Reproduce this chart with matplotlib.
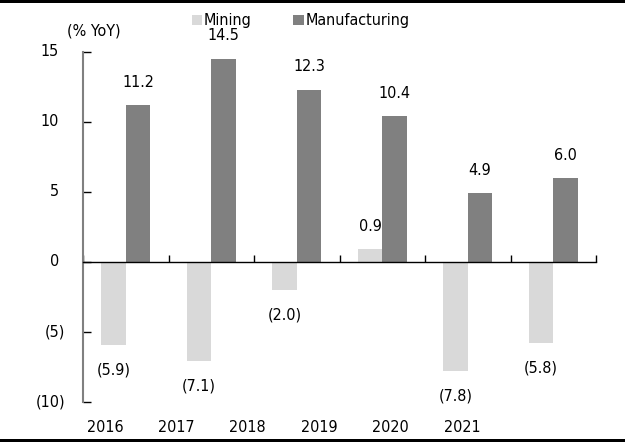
import matplotlib
matplotlib.use("Agg")
import matplotlib.pyplot as plt
from matplotlib.patches import Rectangle
from matplotlib.transforms import offset_copy, blended_transform_factory
import numpy as np

years = ["2016", "2017", "2018", "2019", "2020", "2021"]
mining = [-5.9, -7.1, -2.0, 0.9, -7.8, -5.8]
manufacturing = [11.2, 14.5, 12.3, 10.4, 4.9, 6.0]
yticks = [-10, -5, 0, 5, 10, 15]

plt.rcParams["font.family"] = ["DejaVu Sans"]
plt.rcParams["font.stretch"] = "condensed"
FS = 11.5

c_min = "#d9d9d9"
c_man = "#808080"

fig = plt.figure(figsize=(6.25, 4.42), dpi=100)
W, H = 625, 442
ax = fig.add_axes([83 / W, 1 - 402 / H, (596 - 83) / W, (402 - 52) / H])

x = np.arange(len(years))
bw = 0.284
b1 = ax.bar(x - bw / 2, mining, bw, color=c_min, label="Mining", zorder=2)
b2 = ax.bar(x + bw / 2, manufacturing, bw, color=c_man, label="Manufacturing", zorder=2)

ax.set_xlim(-0.5, len(years) - 0.5)
ax.set_ylim(-10, 15)

for s in ["top", "right"]:
    ax.spines[s].set_visible(False)
ax.spines["left"].set_color("#808080")
ax.spines["left"].set_linewidth(1.5)
ax.spines["bottom"].set_position(("data", 0))
ax.spines["bottom"].set_color("black")
ax.spines["bottom"].set_linewidth(1.0)
ax.spines["bottom"].set_zorder(3)

ax.set_xticks(np.arange(-0.5, len(years), 1.0))
ax.set_xticklabels([])
ax.tick_params(axis="x", direction="in", length=5, width=1, color="black")
ax.set_yticks(yticks)
ax.set_yticklabels([])
ax.tick_params(axis="y", direction="in", length=6, width=1, color="black")

# y tick labels (Excel style with hanging parenthesis)
ytr = blended_transform_factory(ax.transAxes, ax.transData)
for v in yticks:
    if v < 0:
        txt = f"({abs(v)})"
        dx = -18
    else:
        txt = f"{v}"
        dx = -24
    ax.text(0, v, txt, transform=offset_copy(ytr, fig=fig, x=dx, y=0, units="dots"),
            ha="right", va="center", fontsize=FS)

# x category labels
xtr = blended_transform_factory(ax.transData, ax.transAxes)
for i, yr in enumerate(years):
    xp = -0.5 + (22 + 71.4 * i) / 85.5
    ax.text(xp, 0, yr, transform=offset_copy(xtr, fig=fig, x=0, y=-25, units="dots"),
            ha="center", va="center", fontsize=FS)

def fmt(v):
    return f"({abs(v):.1f})" if v < 0 else f"{v:.1f}"

for xs, vals in [(x - bw / 2, mining), (x + bw / 2, manufacturing)]:
    for xi, v in zip(xs, vals):
        off = 23 if v >= 0 else -25
        ax.annotate(fmt(v), (xi, v), xytext=(0, off * 0.72), textcoords="offset points",
                    ha="center", va="center", fontsize=FS)

fig.text(93.5 / W, 1 - 31 / H, "(% YoY)", ha="center", va="center", fontsize=FS)

leg = fig.legend(handles=[b1, b2], loc="center left", bbox_to_anchor=(192 / W, 1 - 21 / H),
                 ncol=2, frameon=False, fontsize=FS, handlelength=0.65, handleheight=0.65,
                 handletextpad=0.1, columnspacing=2.6, borderpad=0, borderaxespad=0)

fig.add_artist(Rectangle((0, 1 - 2.7 / H), 1, 2.7 / H, transform=fig.transFigure,
                         color="black", lw=0))
fig.add_artist(Rectangle((0, 0), 1, 3 / H, transform=fig.transFigure, color="black", lw=0))

fig.savefig("out.png", dpi=100)
